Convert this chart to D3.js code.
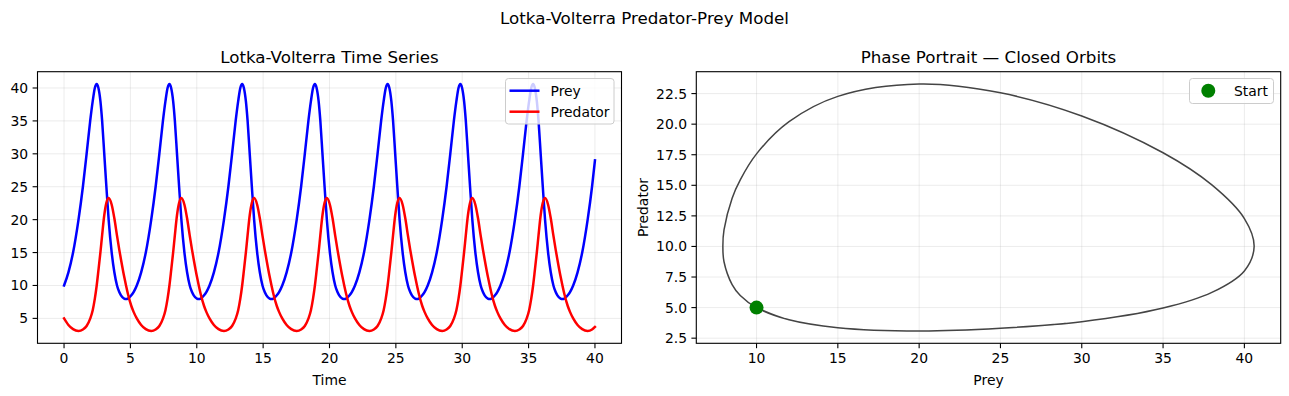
<!DOCTYPE html>
<html>
<head>
<meta charset="utf-8">
<script src="https://cdn.jsdelivr.net/npm/d3@7"></script>
<style>
  body { margin: 0; background: #fff; }
  svg { display: block; font-family: "DejaVu Sans", sans-serif; }
</style>
</head>
<body>
<div id="chart"></div>
<script>
// ── Datos (una fila por ciclo) ────────────────────────────────────────────
const time = [
  0, 0.33, 0.68, 1.09, 1.42, 1.70, 1.97, 2.16, 2.32, 2.46, 2.59, 2.74, 2.87, 3.03, 3.19, 3.36, 3.59, 3.79, 3.99, 4.16, 4.29, 4.53, 4.67, 4.81, 5.07, 5.24,
  5.48, 5.81, 6.16, 6.57, 6.90, 7.18, 7.45, 7.64, 7.80, 7.94, 8.07, 8.22, 8.35, 8.51, 8.67, 8.84, 9.07, 9.27, 9.47, 9.64, 9.77, 10.01, 10.15, 10.29, 10.55, 10.72,
  10.96, 11.29, 11.64, 12.05, 12.38, 12.66, 12.93, 13.12, 13.28, 13.42, 13.55, 13.70, 13.83, 13.99, 14.15, 14.32, 14.55, 14.75, 14.95, 15.12, 15.25, 15.49, 15.63, 15.77, 16.03, 16.20,
  16.44, 16.77, 17.12, 17.53, 17.86, 18.14, 18.41, 18.60, 18.76, 18.90, 19.03, 19.18, 19.31, 19.47, 19.63, 19.80, 20.03, 20.23, 20.43, 20.60, 20.73, 20.97, 21.11, 21.25, 21.51, 21.68,
  21.92, 22.25, 22.60, 23.01, 23.34, 23.62, 23.89, 24.08, 24.24, 24.38, 24.51, 24.66, 24.79, 24.95, 25.11, 25.28, 25.51, 25.71, 25.91, 26.08, 26.21, 26.45, 26.59, 26.73, 26.99, 27.16,
  27.40, 27.73, 28.08, 28.49, 28.82, 29.10, 29.37, 29.56, 29.72, 29.86, 29.99, 30.14, 30.27, 30.43, 30.59, 30.76, 30.99, 31.19, 31.39, 31.56, 31.69, 31.93, 32.07, 32.21, 32.47, 32.64,
  32.88, 33.21, 33.56, 33.97, 34.30, 34.58, 34.85, 35.04, 35.20, 35.34, 35.47, 35.62, 35.75, 35.91, 36.07, 36.24, 36.47, 36.67, 36.87, 37.04, 37.17, 37.41, 37.55, 37.69, 37.95, 38.12,
  38.36, 38.69, 39.04, 39.45, 39.78, 40.00
];

const prey = [
  10, 12, 15, 20, 25, 30, 35, 38, 40, 40.6, 40, 38, 35, 30, 25, 20, 15, 12, 10, 9, 8.5, 8, 7.93, 8, 8.5, 9,
  10, 12, 15, 20, 25, 30, 35, 38, 40, 40.6, 40, 38, 35, 30, 25, 20, 15, 12, 10, 9, 8.5, 8, 7.93, 8, 8.5, 9,
  10, 12, 15, 20, 25, 30, 35, 38, 40, 40.6, 40, 38, 35, 30, 25, 20, 15, 12, 10, 9, 8.5, 8, 7.93, 8, 8.5, 9,
  10, 12, 15, 20, 25, 30, 35, 38, 40, 40.6, 40, 38, 35, 30, 25, 20, 15, 12, 10, 9, 8.5, 8, 7.93, 8, 8.5, 9,
  10, 12, 15, 20, 25, 30, 35, 38, 40, 40.6, 40, 38, 35, 30, 25, 20, 15, 12, 10, 9, 8.5, 8, 7.93, 8, 8.5, 9,
  10, 12, 15, 20, 25, 30, 35, 38, 40, 40.6, 40, 38, 35, 30, 25, 20, 15, 12, 10, 9, 8.5, 8, 7.93, 8, 8.5, 9,
  10, 12, 15, 20, 25, 30, 35, 38, 40, 40.6, 40, 38, 35, 30, 25, 20, 15, 12, 10, 9, 8.5, 8, 7.93, 8, 8.5, 9,
  10, 12, 15, 20, 25, 29.0
];

const predator = [
  5, 4.0, 3.36, 3.09, 3.31, 3.84, 4.96, 6.24, 8.0, 10, 12.28, 15.03, 17.66, 20.67, 22.56, 23.28, 22.27, 20.2, 17.57, 15.45, 13.95, 11.35, 10, 8.75, 6.88, 5.99,
  5, 4.0, 3.36, 3.09, 3.31, 3.84, 4.96, 6.24, 8.0, 10, 12.28, 15.03, 17.66, 20.67, 22.56, 23.28, 22.27, 20.2, 17.57, 15.45, 13.95, 11.35, 10, 8.75, 6.88, 5.99,
  5, 4.0, 3.36, 3.09, 3.31, 3.84, 4.96, 6.24, 8.0, 10, 12.28, 15.03, 17.66, 20.67, 22.56, 23.28, 22.27, 20.2, 17.57, 15.45, 13.95, 11.35, 10, 8.75, 6.88, 5.99,
  5, 4.0, 3.36, 3.09, 3.31, 3.84, 4.96, 6.24, 8.0, 10, 12.28, 15.03, 17.66, 20.67, 22.56, 23.28, 22.27, 20.2, 17.57, 15.45, 13.95, 11.35, 10, 8.75, 6.88, 5.99,
  5, 4.0, 3.36, 3.09, 3.31, 3.84, 4.96, 6.24, 8.0, 10, 12.28, 15.03, 17.66, 20.67, 22.56, 23.28, 22.27, 20.2, 17.57, 15.45, 13.95, 11.35, 10, 8.75, 6.88, 5.99,
  5, 4.0, 3.36, 3.09, 3.31, 3.84, 4.96, 6.24, 8.0, 10, 12.28, 15.03, 17.66, 20.67, 22.56, 23.28, 22.27, 20.2, 17.57, 15.45, 13.95, 11.35, 10, 8.75, 6.88, 5.99,
  5, 4.0, 3.36, 3.09, 3.31, 3.84, 4.96, 6.24, 8.0, 10, 12.28, 15.03, 17.66, 20.67, 22.56, 23.28, 22.27, 20.2, 17.57, 15.45, 13.95, 11.35, 10, 8.75, 6.88, 5.99,
  5, 4.0, 3.36, 3.09, 3.31, 3.70
];

const startPoint = {prey: 10, predator: 5};

const timeTicks     = [0, 5, 10, 15, 20, 25, 30, 35, 40];
const popTicks      = [5, 10, 15, 20, 25, 30, 35, 40];
const preyTicks     = [10, 15, 20, 25, 30, 35, 40];
const predatorTicks = [2.5, 5, 7.5, 10, 12.5, 15, 17.5, 20, 22.5];

const series = [
  {name: "Prey", values: prey, color: "#0000ff"},
  {name: "Predator", values: predator, color: "#ff0000"},
];

// ── Layout ────────────────────────────────────────────────────────────────
const width = 1289, height = 396;
const boxL = {x0: 37.5, x1: 621.5, y0: 71.7, y1: 343.3};
const boxR = {x0: 696.3, x1: 1280.7, y0: 71.7, y1: 343.3};
const FS = 13.9, TITLE_FS = 16.7;

// márgenes al estilo matplotlib (5%)
function padded(ext) {
  const p = (ext[1] - ext[0]) * 0.05;
  return [ext[0] - p, ext[1] + p];
}

const svg = d3.select("#chart").append("svg")
  .attr("width", width).attr("height", height)
  .attr("viewBox", [0, 0, width, height]);

svg.append("rect").attr("width", width).attr("height", height).attr("fill", "#fff");

svg.append("text")
  .attr("x", width / 2).attr("y", 24)
  .attr("text-anchor", "middle").attr("font-size", TITLE_FS).attr("fill", "#000")
  .text("Lotka-Volterra Predator-Prey Model");

function drawAxes(box, x, y, xTicks, yTicks, yFmt, title) {
  const g = svg.append("g");
  // grid
  g.selectAll("line.gx").data(xTicks).join("line")
    .attr("x1", d => x(d)).attr("x2", d => x(d))
    .attr("y1", box.y0).attr("y2", box.y1)
    .attr("stroke", "#b0b0b0").attr("stroke-opacity", 0.3).attr("stroke-width", 0.8);
  g.selectAll("line.gy").data(yTicks).join("line")
    .attr("x1", box.x0).attr("x2", box.x1)
    .attr("y1", d => y(d)).attr("y2", d => y(d))
    .attr("stroke", "#b0b0b0").attr("stroke-opacity", 0.3).attr("stroke-width", 0.8);

  // ticks + labels
  g.selectAll("line.tx").data(xTicks).join("line")
    .attr("x1", d => x(d)).attr("x2", d => x(d))
    .attr("y1", box.y1).attr("y2", box.y1 + 4.9)
    .attr("stroke", "#000").attr("stroke-width", 1.1);
  g.selectAll("text.tx").data(xTicks).join("text")
    .attr("x", d => x(d)).attr("y", box.y1 + 20)
    .attr("text-anchor", "middle").attr("font-size", FS).attr("fill", "#000")
    .text(d => d);
  g.selectAll("line.ty").data(yTicks).join("line")
    .attr("x1", box.x0 - 4.9).attr("x2", box.x0)
    .attr("y1", d => y(d)).attr("y2", d => y(d))
    .attr("stroke", "#000").attr("stroke-width", 1.1);
  g.selectAll("text.ty").data(yTicks).join("text")
    .attr("x", box.x0 - 9.3).attr("y", d => y(d) + 5)
    .attr("text-anchor", "end").attr("font-size", FS).attr("fill", "#000")
    .text(yFmt);

  svg.append("text")
    .attr("x", (box.x0 + box.x1) / 2).attr("y", box.y0 - 8.3)
    .attr("text-anchor", "middle").attr("font-size", TITLE_FS).attr("fill", "#000")
    .text(title);
  return g;
}

function frame(box) {
  svg.append("rect")
    .attr("x", box.x0).attr("y", box.y0)
    .attr("width", box.x1 - box.x0).attr("height", box.y1 - box.y0)
    .attr("fill", "none").attr("stroke", "#000").attr("stroke-width", 1.1);
}

// ── Panel izquierdo: series temporales ───────────────────────────────────
const xT = d3.scaleLinear().domain(padded(d3.extent(time))).range([boxL.x0, boxL.x1]);
const yT = d3.scaleLinear()
  .domain(padded([d3.min([...prey, ...predator]), d3.max([...prey, ...predator])]))
  .range([boxL.y1, boxL.y0]);

drawAxes(boxL, xT, yT, timeTicks, popTicks, d => d, "Lotka-Volterra Time Series");

const lineT = d3.line().curve(d3.curveMonotoneX);
series.forEach(s => {
  svg.append("path")
    .attr("d", lineT(time.map((t, i) => [xT(t), yT(s.values[i])])))
    .attr("fill", "none").attr("stroke", s.color).attr("stroke-width", 2.5)
    .attr("stroke-linejoin", "round").attr("stroke-linecap", "square");
});

svg.append("text")
  .attr("x", (boxL.x0 + boxL.x1) / 2).attr("y", 385)
  .attr("text-anchor", "middle").attr("font-size", FS).attr("fill", "#000")
  .text("Time");

frame(boxL);

// leyenda
const legL = svg.append("g");
legL.append("rect")
  .attr("x", 505.5).attr("y", 78.5).attr("width", 108.5).attr("height", 45.5).attr("rx", 3)
  .attr("fill", "#fff").attr("fill-opacity", 0.8).attr("stroke", "#cccccc").attr("stroke-width", 1);
series.forEach((s, i) => {
  const ly = 90.7 + i * 21;
  legL.append("line").attr("x1", 509.5).attr("x2", 539.5).attr("y1", ly).attr("y2", ly)
    .attr("stroke", s.color).attr("stroke-width", 2.5);
  legL.append("text").attr("x", 550.5).attr("y", ly + 5)
    .attr("font-size", FS).attr("fill", "#000").text(s.name);
});

// ── Panel derecho: retrato de fase ──────────────────────────────────────
const xP = d3.scaleLinear().domain(padded(d3.extent(prey))).range([boxR.x0, boxR.x1]);
const yP = d3.scaleLinear().domain(padded(d3.extent(predator))).range([boxR.y1, boxR.y0]);

drawAxes(boxR, xP, yP, preyTicks, predatorTicks, d3.format(".1f"), "Phase Portrait \u2014 Closed Orbits");

const lineP = d3.line().curve(d3.curveCatmullRom.alpha(0.5));
svg.append("path")
  .attr("d", lineP(prey.map((p, i) => [xP(p), yP(predator[i])])))
  .attr("fill", "none").attr("stroke", "#444444").attr("stroke-width", 1.5)
  .attr("stroke-linejoin", "round");

svg.append("circle")
  .attr("cx", xP(startPoint.prey)).attr("cy", yP(startPoint.predator)).attr("r", 7)
  .attr("fill", "#008000");

svg.append("text")
  .attr("x", (boxR.x0 + boxR.x1) / 2).attr("y", 385)
  .attr("text-anchor", "middle").attr("font-size", FS).attr("fill", "#000")
  .text("Prey");
svg.append("text")
  .attr("transform", `translate(648,${(boxR.y0 + boxR.y1) / 2}) rotate(-90)`)
  .attr("text-anchor", "middle").attr("font-size", FS).attr("fill", "#000")
  .text("Predator");

frame(boxR);

const legR = svg.append("g");
legR.append("rect")
  .attr("x", 1189.5).attr("y", 78.5).attr("width", 84).attr("height", 25).attr("rx", 3)
  .attr("fill", "#fff").attr("fill-opacity", 0.8).attr("stroke", "#cccccc").attr("stroke-width", 1);
legR.append("circle").attr("cx", 1208.3).attr("cy", 90.7).attr("r", 7).attr("fill", "#008000");
legR.append("text").attr("x", 1234).attr("y", 95.7)
  .attr("font-size", FS).attr("fill", "#000").text("Start");
</script>
</body>
</html>
